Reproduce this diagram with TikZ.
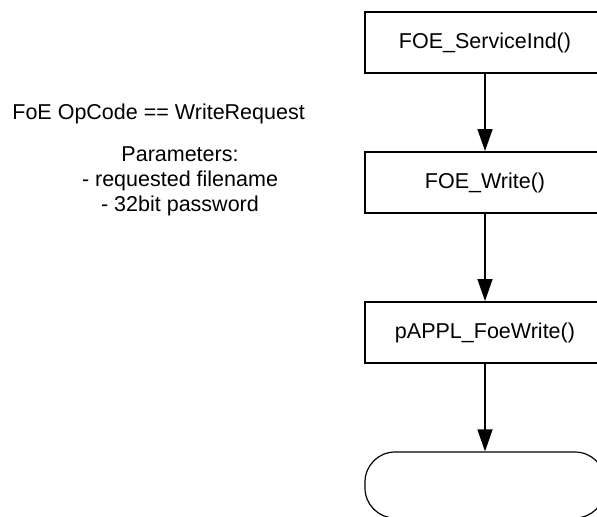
\documentclass[tikz,border=0pt]{standalone}
\usepackage{fontspec}
\setmainfont{Liberation Sans}
\usetikzlibrary{arrows.meta}

\tikzset{
  funcbox/.style={draw, line width=1pt, minimum width=120pt, minimum height=30.5pt, inner sep=0pt},
  termbox/.style={draw, line width=0.6pt, rounded corners=15pt, minimum width=120pt, minimum height=33pt},
  flow/.style={line width=0.75pt, -{Triangle[length=11pt,width=7.5pt]}},
  note/.style={inner sep=0pt, align=center}
}

\begin{document}
\begin{tikzpicture}[x=0.5pt, y=-0.5pt, font=\fontsize{10.75pt}{12.5pt}\selectfont]
\useasboundingbox (0,0) rectangle (597,516);

% Call chain
\node[funcbox] (serviceind) at (485,42.5) {FOE\_ServiceInd()};
\node[funcbox] (write) at (485,182.5) {FOE\_Write()};
\node[funcbox] (applwrite) at (485,332.5) {pAPPL\_FoeWrite()};
\node[termbox] (done) at (485,485) {};

\draw[flow] (serviceind) -- (write);
\draw[flow] (write) -- (applwrite);
\draw[flow] (applwrite) -- (done);

% Request description
\node[note, anchor=base west] (opcode) at (12,119) {FoE OpCode == WriteRequest};
\node[note] (params) at (180,181.5) {Parameters:\\- requested filename\\- 32bit password};
\end{tikzpicture}
\end{document}
